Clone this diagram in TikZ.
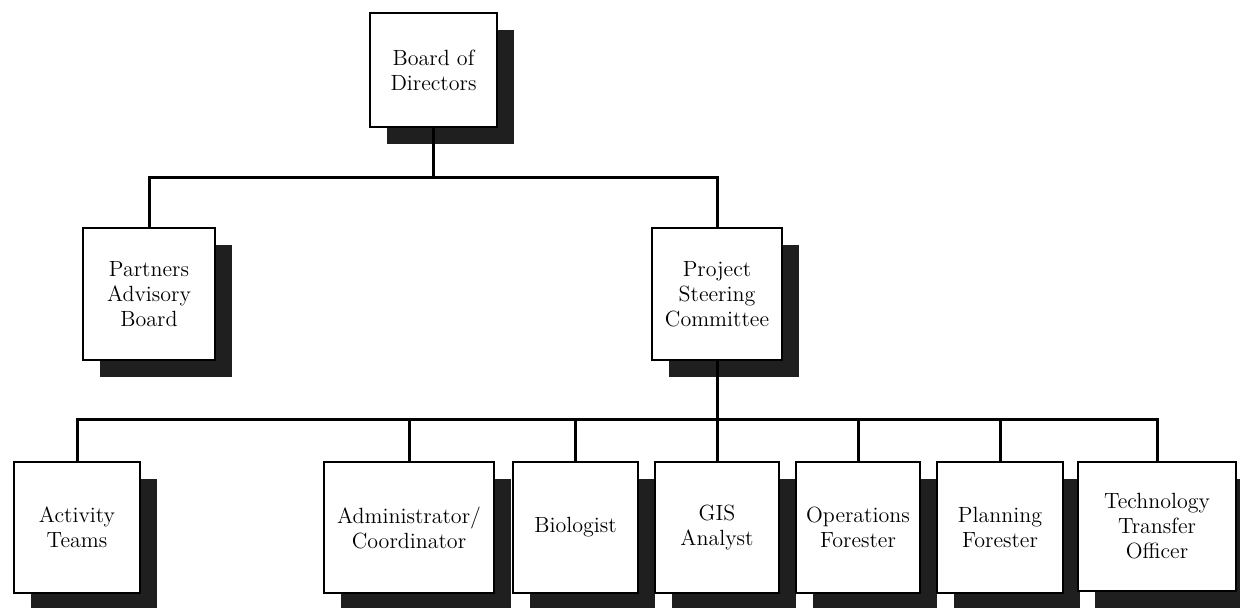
\documentclass[tikz,border=0pt]{standalone}
\usetikzlibrary{positioning}
\usetikzlibrary{shadows}

\begin{document}
\begin{tikzpicture}[
    x=0.5pt, y=-0.5pt,
    font=\fontsize{11}{12.5}\selectfont
]
\tikzset{
    orgbox/.style = {rectangle, draw=black, line width=1.3pt, fill=white, align=center, inner sep=0pt,
        drop shadow={shadow xshift=8.5pt, shadow yshift=-8.5pt, fill=black!88, opacity=1}},
    link/.style = {line width=1.5pt}
}
\useasboundingbox (0,0) rectangle (1240,607);
% top and middle level
\node[orgbox, minimum width=63.5pt, minimum height=57pt] at (433.5,70) (board) {Board of\\Directors};
\node[orgbox, minimum width=66pt, minimum height=66pt] at (149,294) (partners) {Partners\\Advisory\\Board};
\node[orgbox, minimum width=65pt, minimum height=66pt] at (717,294) (steer) {Project\\Steering\\Committee};
% bottom level
\node[orgbox, minimum width=63pt, minimum height=65.5pt] at (77,527.5) (act) {Activity\\Teams};
\node[orgbox, minimum width=85pt, minimum height=65.5pt] at (409,527.5) (admin) {Administrator/\\Coordinator};
\node[orgbox, minimum width=62.5pt, minimum height=65.5pt] at (575.5,527.5) (bio) {Biologist};
\node[orgbox, minimum width=62pt, minimum height=65.5pt] at (717,527.5) (gis) {GIS\\Analyst};
\node[orgbox, minimum width=62pt, minimum height=65.5pt] at (858,527.5) (ops) {Operations\\Forester};
\node[orgbox, minimum width=63pt, minimum height=65.5pt] at (1000,527.5) (plan) {Planning\\Forester};
\node[orgbox, minimum width=79pt, minimum height=64.5pt] at (1157,526.5) (tech) {Technology\\Transfer\\Officer};
% connectors
\coordinate (bus1) at (0,177);
\coordinate (bus2) at (0,419);
\draw[link] (board.south) -- (board.south |- bus1);
\draw[link] (partners.north) |- (steer.north |- bus1) -- (steer.north);
\draw[link] (steer.south) -- (steer.south |- bus2);
\draw[link] (act.north) |- (tech.north |- bus2) -- (tech.north);
\foreach \nd in {admin,bio,gis,ops,plan}
    \draw[link] (\nd.north) -- (\nd.north |- bus2);
\end{tikzpicture}
\end{document}
